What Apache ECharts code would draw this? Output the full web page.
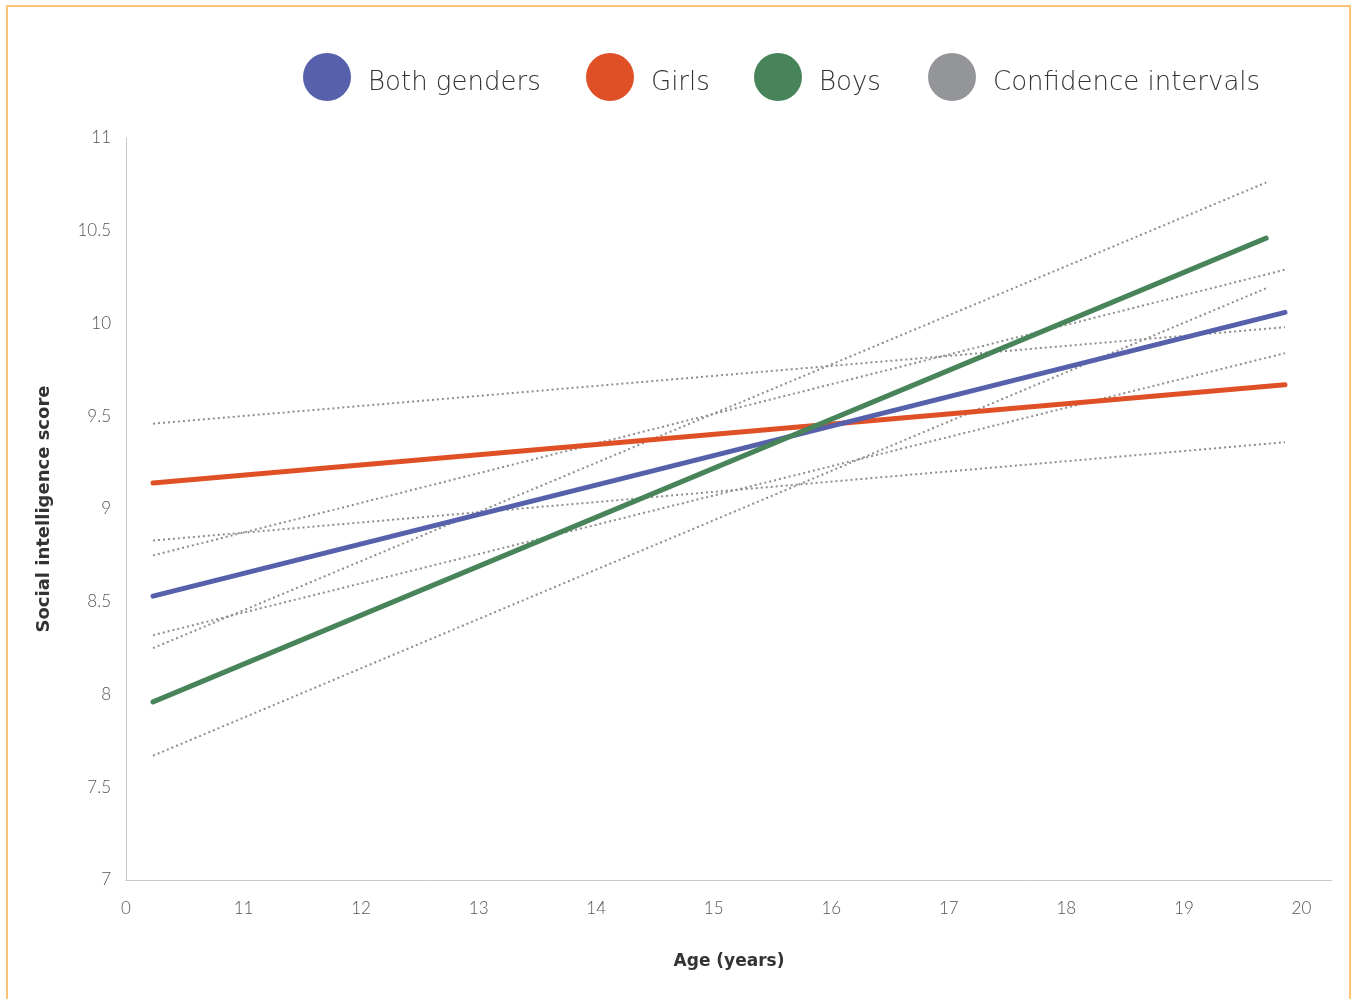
<!DOCTYPE html>
<html>
<head>
<meta charset="utf-8">
<script src="https://cdn.jsdelivr.net/npm/echarts@6/dist/echarts.min.js"></script>
<style>
html,body{margin:0;padding:0;background:#fff;}
#chart{width:1356px;height:999px;}
</style>
</head>
<body>
<div id="chart"></div>
<script>
// ---- Data ----
const xTickLabels = ['0','11','12','13','14','15','16','17','18','19','20'];
const agesLong = [10.23, 19.86];
const agesBoys = [10.23, 19.70];
const bothValues  = [8.53, 10.06];
const girlsValues = [9.14, 9.67];
const boysValues  = [7.96, 10.46];
const bothUpper  = [8.75, 10.29];
const bothLower  = [8.32, 9.84];
const girlsUpper = [9.46, 9.98];
const girlsLower = [8.83, 9.36];
const boysUpper  = [8.25, 10.76];
const boysLower  = [7.67, 10.19];
const legendNames = ['Both genders','Girls','Boys','Confidence intervals'];

const FONT = 'Lato';
const LEG_FONT = 'DejaVu Sans';
const TITLE_FONT = 'DejaVu Sans';
const pair = (xs, ys) => xs.map((x, i) => [x, ys[i]]);

const ciStyle = {color:'#8e8e8e', width:2, type:[2,3]};
function ciSeries(xs, ys){
  return {name:'Confidence intervals', type:'line', data:pair(xs, ys), symbol:'none',
    itemStyle:{color:'#949598'}, lineStyle:ciStyle, z:2, silent:true};
}
function mainSeries(name, color, xs, ys){
  return {name:name, type:'line', data:pair(xs, ys), symbol:'none',
    itemStyle:{color:color}, lineStyle:{color:color, width:5, cap:'round'}, z:5, silent:true};
}

const legendLefts = [298, 581, 749, 923];
const legends = legendNames.map((n, i) => ({
  data:[n], left:legendLefts[i], top:48, icon:'circle', itemWidth:48, itemHeight:48,
  formatter:(name)=>'{t|' + name + '}',
  textStyle:{fontFamily:LEG_FONT, fontSize:26, fontWeight:200, color:'#333', padding:[0,0,0,12],
    rich:{t:{fontFamily:LEG_FONT, fontSize:26, fontWeight:200, color:'#333', padding:[12,0,0,0]}}},
  selectedMode:false
}));

const chart = echarts.init(document.getElementById('chart'));
chart.setOption({
  animation:false,
  backgroundColor:'#fff',
  graphic:[{type:'rect', shape:{x:7, y:6, width:1343, height:1010},
    style:{fill:'none', stroke:'#fcc474', lineWidth:2}, silent:true}],
  legend:legends,
  grid:{left:126, right:24, top:138, bottom:119},
  xAxis:{type:'value', min:10, max:20.26, interval:1,
    name:'Age (years)', nameLocation:'middle', nameGap:73,
    nameTextStyle:{fontFamily:TITLE_FONT, fontSize:17, fontWeight:'bold', color:'#333'},
    axisLine:{show:true, lineStyle:{color:'#c8c8c8', width:1}},
    axisTick:{show:false}, splitLine:{show:false},
    axisLabel:{fontFamily:FONT, fontSize:17, fontWeight:300, color:'#555', margin:20,
      showMaxLabel:false,
      formatter:(v)=>{const i=Math.round(v-10); return (Math.abs(v-10-i)<1e-6 && xTickLabels[i]!==undefined)? xTickLabels[i] : '';}}
  },
  yAxis:{type:'value', min:7, max:11, interval:0.5,
    name:'Social intelligence score', nameLocation:'middle', nameGap:73,
    nameTextStyle:{fontFamily:TITLE_FONT, fontSize:18, fontWeight:'bold', color:'#333'},
    axisLine:{show:true, lineStyle:{color:'#c8c8c8', width:1}},
    axisTick:{show:false}, splitLine:{show:false},
    axisLabel:{fontFamily:FONT, fontSize:17, fontWeight:300, color:'#555', margin:15}
  },
  series:[
    ciSeries(agesLong, girlsUpper),
    ciSeries(agesLong, girlsLower),
    ciSeries(agesLong, bothUpper),
    ciSeries(agesLong, bothLower),
    ciSeries(agesBoys, boysUpper),
    ciSeries(agesBoys, boysLower),
    mainSeries('Girls', '#e05026', agesLong, girlsValues),
    mainSeries('Both genders', '#5660ab', agesLong, bothValues),
    mainSeries('Boys', '#47845a', agesBoys, boysValues)
  ]
});
</script>
</body>
</html>
